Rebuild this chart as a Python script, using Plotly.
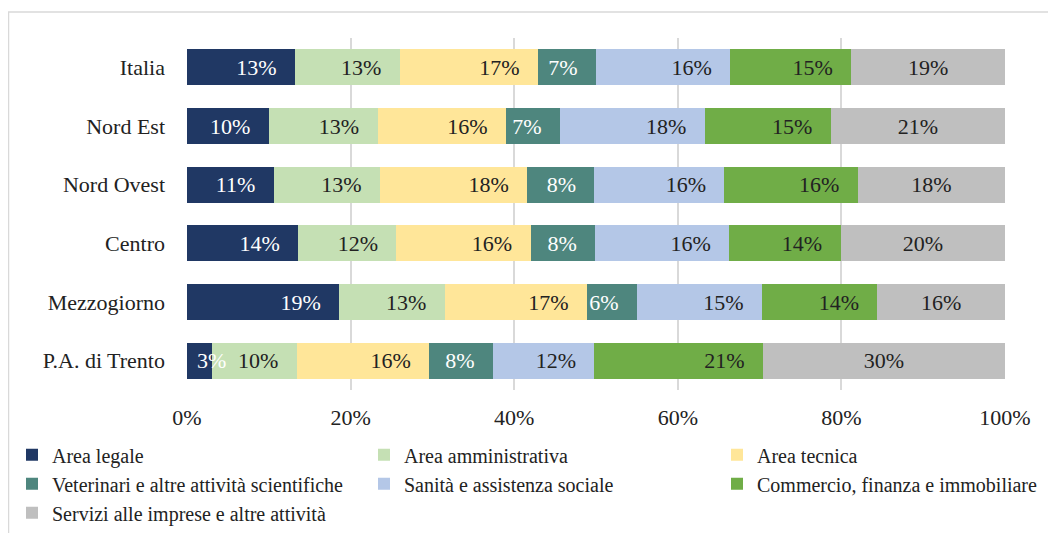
import plotly.graph_objects as go

categories = ["Italia", "Nord Est", "Nord Ovest", "Centro", "Mezzogiorno", "P.A. di Trento"]

series_names = [
    "Area legale",
    "Area amministrativa",
    "Area tecnica",
    "Veterinari e altre attività scientifiche",
    "Sanità e assistenza sociale",
    "Commercio, finanza e immobiliare",
    "Servizi alle imprese e altre attività",
]

area_legale = [13.2, 10.0, 10.6, 13.6, 18.6, 3.0]
area_amministrativa = [12.8, 13.3, 13.0, 12.0, 12.9, 10.4]
area_tecnica = [16.9, 15.7, 18.0, 16.4, 17.4, 16.2]
veterinari = [7.1, 6.6, 8.2, 7.9, 6.1, 7.8]
sanita = [16.4, 17.7, 15.9, 16.4, 15.3, 12.4]
commercio = [14.8, 15.4, 16.3, 13.6, 14.1, 20.6]
servizi = [18.8, 21.3, 18.0, 20.1, 15.6, 29.6]

series_values = [area_legale, area_amministrativa, area_tecnica, veterinari, sanita, commercio, servizi]
colors = ["#203864", "#C5E0B4", "#FFE699", "#4E867E", "#B4C7E7", "#70AD47", "#BFBFBF"]
text_colors = ["white", "#222222", "#222222", "white", "#222222", "#222222", "#222222"]
# legend column for each series (3-column legend, row-major)
legend_ids = ["legend", "legend2", "legend3", "legend", "legend2", "legend3", "legend"]

x_ticks = [0, 20, 40, 60, 80, 100]
x_tick_labels = ["0%", "20%", "40%", "60%", "80%", "100%"]

FONT = "Liberation Serif"
PAD = "\u00a0\u00a0\u2009"

# page has an 8px body margin around the figure
OFF = 8
W, H = 1056 - OFF, 533 - OFF
L, T = 187 - OFF, 37.5 - OFF
R = W - (1005 - OFF)
B = H - (390.5 - OFF)
pw, ph = W - L - R, H - T - B


def px_x(p):
    """page pixel x -> paper fraction"""
    return (p - OFF - L) / pw


def px_y(p):
    """page pixel y -> paper fraction"""
    return (H - B - (p - OFF)) / ph


fig = go.Figure()
for i, (name, vals) in enumerate(zip(series_names, series_values)):
    last = i == len(series_names) - 1
    positions = ["none" if v < 4 else "inside" for v in vals]
    fig.add_trace(go.Bar(
        y=categories,
        x=vals,
        name=name,
        orientation="h",
        marker=dict(color=colors[i], line=dict(width=0)),
        texttemplate="%{x:.0f}%" + ("" if last else PAD),
        textposition=positions,
        insidetextanchor="middle" if last else "end",
        constraintext="none",
        textangle=0,
        textfont=dict(family=FONT, size=22, color=text_colors[i]),
        hoverinfo="skip",
        legend=legend_ids[i],
    ))

# labels of very thin segments, centred on the segment end (e.g. 3% for P.A. di Trento)
for i, vals in enumerate(series_values):
    for j, v in enumerate(vals):
        if v < 4:
            base = sum(series_values[k][j] for k in range(i))
            fig.add_annotation(
                x=base + v, y=categories[j], xref="x", yref="y",
                text=f"{v:.0f}%", showarrow=False, xanchor="center",
                font=dict(family=FONT, size=22, color=text_colors[i]),
            )

fig.add_shape(type="rect", xref="paper", yref="paper",
              x0=px_x(8.5), x1=px_x(1070), y0=px_y(560), y1=px_y(11.5),
              line=dict(color="#D9D9D9", width=1.5), layer="below")

legend_common = dict(
    orientation="v",
    xanchor="left",
    yanchor="top",
    y=px_y(436),
    font=dict(family=FONT, size=20, color="#222222"),
    traceorder="normal",
    itemclick=False, itemdoubleclick=False,
    bgcolor="rgba(0,0,0,0)",
    tracegroupgap=0,
)

fig.update_layout(
    width=W, height=H,
    barmode="stack",
    bargap=0.39,
    margin=dict(l=L, r=R, t=T, b=B, autoexpand=False),
    paper_bgcolor="white",
    plot_bgcolor="white",
    font=dict(family=FONT, size=22, color="#222222"),
    xaxis=dict(
        range=[0, 100],
        tickvals=x_ticks,
        ticktext=x_tick_labels,
        showgrid=True,
        gridcolor="#D9D9D9",
        gridwidth=1.5,
        zeroline=False,
        showline=False,
        ticks="",
        ticklabelstandoff=12,
        automargin=False,
        tickfont=dict(family=FONT, size=22, color="#222222"),
        fixedrange=True,
    ),
    yaxis=dict(
        autorange="reversed",
        showgrid=False,
        showline=False,
        zeroline=False,
        ticks="",
        ticklabelstandoff=21,
        automargin=False,
        tickfont=dict(family=FONT, size=22, color="#222222"),
        fixedrange=True,
    ),
    legend=dict(x=px_x(12), **legend_common),
    legend2=dict(x=px_x(364), **legend_common),
    legend3=dict(x=px_x(717), **legend_common),
    showlegend=True,
)

fig.write_html("out.html", config={"displayModeBar": False})
